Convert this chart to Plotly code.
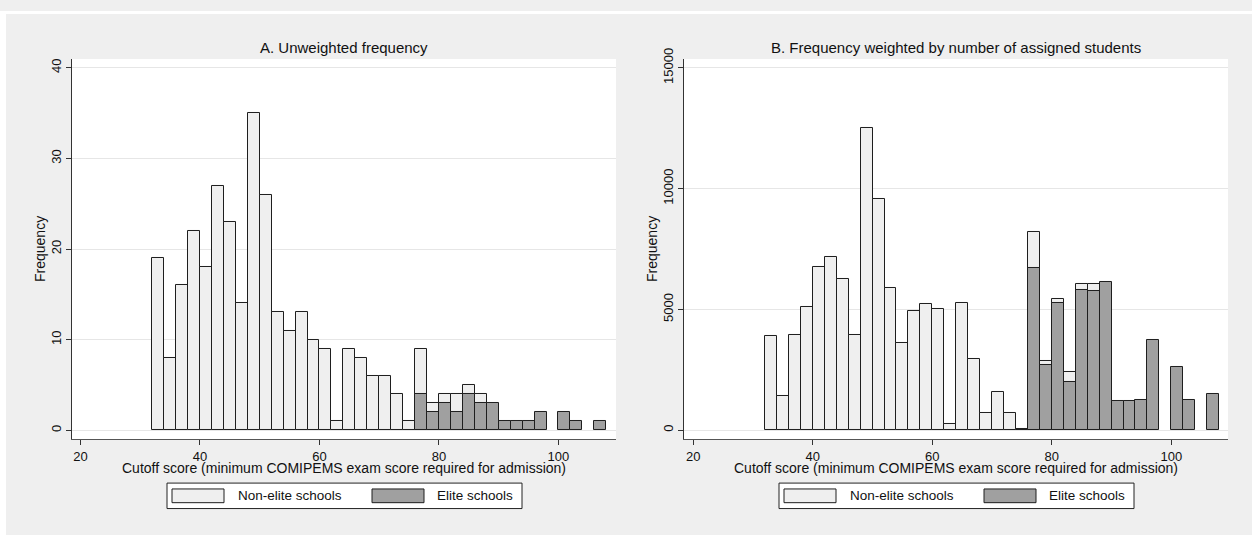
import plotly.graph_objects as go

# Histogram bins: lower edge of each 2-point bin of the cutoff score
bin_lower = [32, 34, 36, 38, 40, 42, 44, 46, 48, 50, 52, 54, 56, 58, 60, 62, 64, 66, 68,
             70, 72, 74, 76, 78, 80, 82, 84, 86, 88, 90, 92, 94, 96, 98, 100, 102, 104, 106]
bin_width = 2

# Panel A: number of schools per bin
nonelite_count = [19, 8, 16, 22, 18, 27, 23, 14, 35, 26, 13, 11, 13, 10, 9, 1, 9, 8, 6,
                  6, 4, 1, 9, 3, 4, 4, 5, 4, None, None, None, None, None, None, None, None, None, None]
elite_count = [None] * 22 + [4, 2, 3, 2, 4, 3, 3, 1, 1, 1, 2, None, 2, 1, None, 1]

# Panel B: bins weighted by number of assigned students
nonelite_weighted = [3900, 1430, 3950, 5120, 6740, 7190, 6270, 3950, 12510, 9570, 5870, 3620, 4950,
                     5230, 5010, 240, 5260, 2960, 710, 1580, 720, 50, 8190, 2850, 5430, 2430, 6040,
                     6060, None, None, None, None, None, None, None, None, None, None]
elite_weighted = [None] * 22 + [6730, 2700, 5270, 1990, 5800, 5760, 6120, 1190, 1190, 1230, 3740,
                                None, 2620, 1230, None, 1510]

panel_titles = ["A. Unweighted frequency",
                "B. Frequency weighted by number of assigned students"]
x_title = "Cutoff score (minimum COMIPEMS exam score required for admission)"
y_title = "Frequency"
legend_labels = ["Non-elite schools", "Elite schools"]
x_ticks = [20, 40, 60, 80, 100]
y_ticks_a = [0, 10, 20, 30, 40]
y_ticks_b = [0, 5000, 10000, 15000]

W, H = 1252, 535
FONT = "Liberation Sans, Arial, sans-serif"
TXT = "#111111"
LIGHT = "#efefef"
DARK = "#a0a0a0"
EDGE = "#1e1e1e"
BG = "#efefef"


def px(x):
    return x / W


def py(y):
    return 1 - y / H


centers = [b + bin_width / 2 for b in bin_lower]

fig = go.Figure()


def add_bars(vals, color, xa, ya):
    fig.add_trace(go.Bar(
        x=centers, y=vals, width=bin_width,
        marker=dict(color=color, line=dict(color=EDGE, width=1)),
        xaxis=xa, yaxis=ya, showlegend=False, hoverinfo="x+y"))


add_bars(nonelite_count, LIGHT, "x", "y")
add_bars(elite_count, DARK, "x", "y")
add_bars(nonelite_weighted, LIGHT, "x2", "y2")
add_bars(elite_weighted, DARK, "x2", "y2")

# plot-region pixel boxes (left, right, top, bottom)
boxes = [(72, 616, 49, 437), (684, 1228, 49, 437)]

axis_common = dict(
    showline=True, linecolor="#333333", linewidth=1,
    ticks="outside", ticklen=5, tickwidth=1, tickcolor="#333333",
    tickfont=dict(family=FONT, size=13, color=TXT),
    zeroline=False,
)


def xaxis_def(box, rng, anchor):
    l, r, t, b = box
    return dict(axis_common, domain=[px(l), px(r)], range=rng, anchor=anchor,
                tickvals=x_ticks, ticktext=[str(v) for v in x_ticks],
                showgrid=False, linecolor="#555555")


def yaxis_def(box, rng, ticks, anchor):
    l, r, t, b = box
    return dict(axis_common, domain=[py(b), py(t)], range=rng, anchor=anchor,
                tickvals=ticks, ticktext=[str(v) for v in ticks], tickangle=-90,
                showgrid=True, gridcolor="#e6e6e6", gridwidth=1)


fig.update_layout(
    width=W, height=H,
    margin=dict(l=0, r=0, t=0, b=0),
    paper_bgcolor=BG, plot_bgcolor="white",
    barmode="overlay", bargap=0,
    font=dict(family=FONT, size=13, color=TXT),
    xaxis=xaxis_def(boxes[0], [18.58, 109.63], "y"),
    yaxis=yaxis_def(boxes[0], [-0.97, 40.97], y_ticks_a, "x"),
    xaxis2=xaxis_def(boxes[1], [18.44, 109.49], "y2"),
    yaxis2=yaxis_def(boxes[1], [-365, 15365], y_ticks_b, "x2"),
)

shapes = [
    # thin white border around the graph region
    dict(type="rect", xref="paper", yref="paper", x0=0, x1=1, y0=py(3), y1=1,
         fillcolor="white", line=dict(width=0), layer="below"),
    dict(type="rect", xref="paper", yref="paper", x0=0, x1=px(6), y0=0, y1=1,
         fillcolor="white", line=dict(width=0), layer="below"),
]
annotations = []

for i, (l, r, t, b) in enumerate(boxes):
    cx = (l + r) / 2
    annotations.append(dict(text=panel_titles[i], x=px(cx), y=py(37), xref="paper", yref="paper",
                            showarrow=False, xanchor="center", yanchor="middle",
                            font=dict(family=FONT, size=15, color=TXT)))
    annotations.append(dict(text=x_title, x=px(cx), y=py(467), xref="paper", yref="paper",
                            showarrow=False, xanchor="center", yanchor="middle",
                            font=dict(family=FONT, size=14, color=TXT)))
    ytx = 40 if i == 0 else 652
    annotations.append(dict(text=y_title, x=px(ytx), y=py((t + b) / 2), xref="paper", yref="paper",
                            showarrow=False, textangle=-90, xanchor="center", yanchor="middle",
                            font=dict(family=FONT, size=14, color=TXT)))

    # legend box below each panel
    off = 0 if i == 0 else 612
    shapes.append(dict(type="rect", xref="paper", yref="paper",
                       x0=px(167 + off), x1=px(522 + off), y0=py(508), y1=py(482),
                       fillcolor="white", line=dict(color="#222222", width=1)))
    for j, (sx, tx, col) in enumerate([(172, 236, LIGHT), (372, 435, DARK)]):
        shapes.append(dict(type="rect", xref="paper", yref="paper",
                           x0=px(sx + off), x1=px(sx + 52 + off), y0=py(502), y1=py(488),
                           fillcolor=col, line=dict(color=EDGE, width=1)))
        annotations.append(dict(text=legend_labels[j], x=px(tx + off), y=py(495),
                                xref="paper", yref="paper", showarrow=False,
                                xanchor="left", yanchor="middle",
                                font=dict(family=FONT, size=13.5, color=TXT)))

fig.update_layout(shapes=shapes, annotations=annotations)
fig.write_html("out.html")
